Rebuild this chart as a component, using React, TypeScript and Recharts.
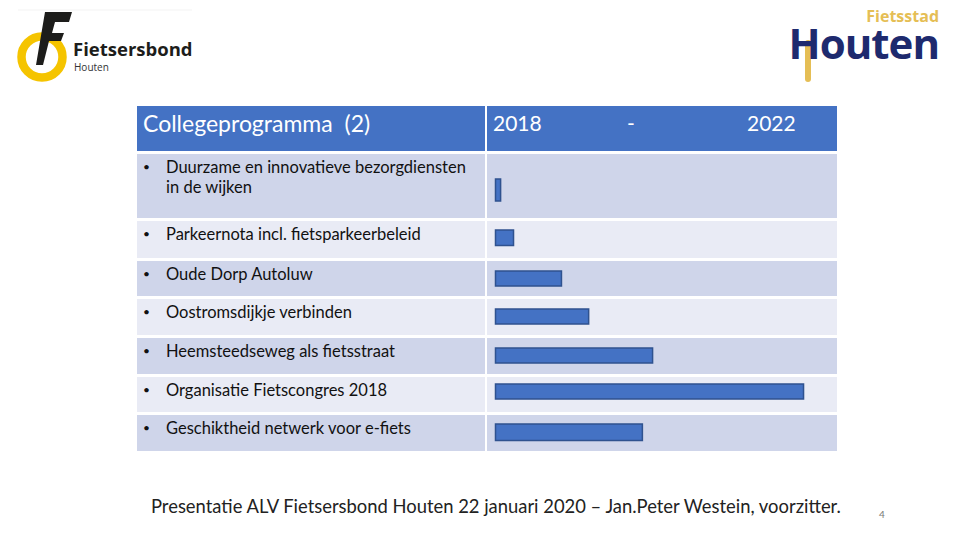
import { BarChart, Bar, XAxis, YAxis } from "recharts";

// Collegeprogramma items and how far each has come within 2018–2022 (% of the period)
const tasks = [
  "Duurzame en innovatieve bezorgdiensten in de wijken",
  "Parkeernota incl. fietsparkeerbeleid",
  "Oude Dorp Autoluw",
  "Oostromsdijkje verbinden",
  "Heemsteedseweg als fietsstraat",
  "Organisatie Fietscongres 2018",
  "Geschiktheid netwerk voor e-fiets",
];
const progress = [1.5, 5.3, 19.4, 27.4, 46.2, 90.6, 43.2];
const periodLabels = ["2018", "-", "2022"];

// row layout (pixels): height, bar thickness, vertical nudge of the bar
const rowHeights = [64, 37, 35, 36, 36, 35, 36];
const barSizes = [22, 15.5, 15, 15, 15, 15, 16.5];
const barNudge = [3.5, -1.5, -0.5, -1, -1, -3.5, -1];

const FONT = "Lato, 'Open Sans', sans-serif";
const DARK_ROW = "#CFD5EA";
const LIGHT_ROW = "#E9EBF5";

const TaskBar = ({ i }: { i: number }) => {
  const h = rowHeights[i];
  const n = barNudge[i];
  const data = [{ task: tasks[i], progress: progress[i] }];
  return (
    <BarChart
      width={350}
      height={h}
      data={data}
      layout="vertical"
      margin={{ top: n > 0 ? 2 * n : 0, bottom: n < 0 ? -2 * n : 0, left: 8.5, right: 1.5 }}
    >
      <XAxis type="number" domain={[0, 100]} hide />
      <YAxis type="category" dataKey="task" hide />
      <Bar
        dataKey="progress"
        barSize={barSizes[i]}
        fill="#4472C4"
        stroke="#2F528F"
        strokeWidth={1.5}
        isAnimationActive={false}
      />
    </BarChart>
  );
};

const FietsersbondLogo = () => (
  <>
    <svg width={200} height={90} style={{ position: "absolute", left: 0, top: 0 }}>
      <line x1={18} y1={10} x2={192} y2={10} stroke="#f3f3f3" strokeWidth={1} />
      <circle cx={42} cy={57} r={20.5} fill="none" stroke="#F5C400" strokeWidth={8.5} />
      <path d="M45 12 L72 12 L69 22 L55 22 L52 33 L64 33 L61 41 L49 41 L43 65 L36 65 Z" fill="#1d1d1b" />
    </svg>
    <div
      style={{
        position: "absolute", left: 73, top: 41, height: 16, lineHeight: "16px",
        fontFamily: "'Open Sans', sans-serif", fontWeight: 700, fontSize: 18.5, color: "#1d1d1b", whiteSpace: "nowrap",
      }}
    >
      Fietsersbond
    </div>
    <div
      style={{
        position: "absolute", left: 74, top: 62, height: 10, lineHeight: "10px",
        fontFamily: "'Open Sans', sans-serif", fontSize: 10, color: "#333", whiteSpace: "nowrap",
      }}
    >
      Houten
    </div>
  </>
);

const HoutenLogo = () => (
  <>
    <div
      style={{
        position: "absolute", right: 21, top: 9, height: 15, lineHeight: "15px",
        fontFamily: "'Open Sans', sans-serif", fontWeight: 700, fontSize: 16, color: "#E5BE55",
      }}
    >
      Fietsstad
    </div>
    <div style={{ position: "absolute", left: 805, top: 40, width: 6, height: 42, borderRadius: 3, background: "#E5BE55" }} />
    <div
      style={{
        position: "absolute", right: 21, top: 27, height: 32, lineHeight: "32px",
        fontFamily: "'Open Sans', sans-serif", fontWeight: 700, fontSize: 42, letterSpacing: -1, color: "#1E2A6E",
      }}
    >
      Houten
    </div>
  </>
);

export default function App() {
  let y = 154;
  const tops = rowHeights.map((h) => {
    const t = y;
    y += h + 3;
    return t;
  });
  return (
    <div
      style={{
        position: "fixed",
        left: 0,
        top: 0,
        width: 960,
        height: 540,
        background: "#fff",
        fontFamily: FONT,
        overflow: "hidden",
      }}
    >
      <FietsersbondLogo />
      <HoutenLogo />

      {/* header */}
      <div style={{ position: "absolute", left: 137, top: 106, width: 348, height: 45, background: "#4472C4" }} />
      <div style={{ position: "absolute", left: 487, top: 106, width: 350, height: 45, background: "#4472C4" }} />
      <div style={{ position: "absolute", left: 143, top: 109, color: "#fff", fontSize: 23, whiteSpace: "pre" }}>
        Collegeprogramma  (2)
      </div>
      <div style={{ position: "absolute", left: 493, top: 110, color: "#fff", fontSize: 21 }}>{periodLabels[0]}</div>
      <div style={{ position: "absolute", left: 627, top: 110, color: "#fff", fontSize: 21 }}>{periodLabels[1]}</div>
      <div style={{ position: "absolute", left: 747, top: 110, color: "#fff", fontSize: 21 }}>{periodLabels[2]}</div>

      {tasks.map((t, i) => (
        <div key={t}>
          <div
            style={{
              position: "absolute",
              left: 137,
              top: tops[i],
              width: 348,
              height: rowHeights[i],
              background: i % 2 === 0 ? DARK_ROW : LIGHT_ROW,
            }}
          >
            <span style={{ position: "absolute", left: 6, top: 3, fontSize: 12, lineHeight: "20px", color: "#111" }}>•</span>
            <div style={{ position: "absolute", left: 29, top: 3, width: 310, fontSize: 16.5, lineHeight: "20px", color: "#111" }}>
              {t}
            </div>
          </div>
          <div
            style={{
              position: "absolute",
              left: 487,
              top: tops[i],
              width: 350,
              height: rowHeights[i],
              background: i % 2 === 0 ? DARK_ROW : LIGHT_ROW,
            }}
          >
            <TaskBar i={i} />
          </div>
        </div>
      ))}

      <div style={{ position: "absolute", left: 151, top: 495, fontSize: 18.4, color: "#222", whiteSpace: "nowrap" }}>
        Presentatie ALV Fietsersbond Houten 22 januari 2020 – Jan.Peter Westein, voorzitter.
      </div>
      <div style={{ position: "absolute", left: 879, top: 508, fontSize: 10, color: "#777" }}>4</div>
    </div>
  );
}
